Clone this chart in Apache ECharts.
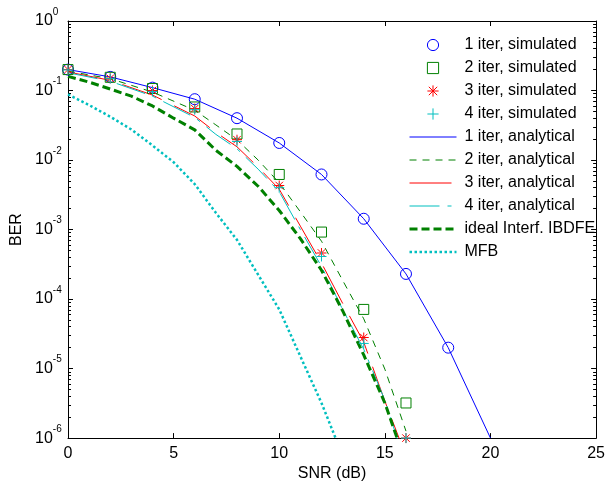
<!DOCTYPE html>
<html>
<head>
<meta charset="utf-8">
<script src="https://cdn.jsdelivr.net/npm/echarts@6/dist/echarts.min.js"></script>
<style>html,body{margin:0;padding:0;background:#fff;}#c{width:608px;height:487px;}</style>
</head>
<body>
<div id="c"></div>
<script>
// ---- data ----
const xTicks = [0, 5, 10, 15, 20, 25];
const yTickExponents = [-6, -5, -4, -3, -2, -1, 0];

const snrSim1 = [0, 2, 4, 6, 8, 10, 12, 14, 16, 18];
const berSim1 = [0.2, 0.157, 0.11, 0.075, 0.040, 0.0176, 0.0062, 0.00143, 2.3e-4, 2.0e-5];

const snrSim2 = [0, 2, 4, 6, 8, 10, 12, 14, 16];
const berSim2 = [0.2, 0.155, 0.107, 0.058, 0.0237, 0.0062, 9.2e-4, 7.1e-5, 3.2e-6];

const snrSim3 = [0, 2, 4, 6, 8, 10, 12, 14, 16];
const berSim3 = [0.2, 0.15, 0.1, 0.055, 0.0196, 0.0043, 4.6e-4, 2.8e-5, 1.0e-6];

const snrSim4 = [0, 2, 4, 6, 8, 10, 12, 14, 16];
const berSim4 = [0.198, 0.148, 0.097, 0.053, 0.0185, 0.0040, 4.1e-4, 2.3e-5, 1.0e-6];

const snrAna1 = [0, 2, 4, 6, 8, 10, 12, 14, 16, 18, 20];
const berAna1 = [0.2, 0.157, 0.11, 0.075, 0.040, 0.0176, 0.0062, 0.00143, 2.3e-4, 2.0e-5, 1.0e-6];

const snrAna2 = [0, 2, 4, 6, 7, 8, 9, 10, 11, 12, 13, 14, 15, 16];
const berAna2 = [0.19, 0.148, 0.095, 0.052, 0.032, 0.0195, 0.010, 0.0047, 1.8e-3, 6.8e-4, 1.86e-4, 5.2e-5, 9.8e-6, 1.26e-6];

const snrAna3 = [0, 2, 4, 6, 7, 8, 9, 10, 11, 12, 13, 14, 15, 16];
const berAna3 = [0.185, 0.14, 0.086, 0.043, 0.025, 0.0155, 0.0079, 0.0038, 1.12e-3, 3.3e-4, 8.7e-5, 2.4e-5, 3.4e-6, 5.5e-7];

const snrAna4 = [0, 2, 4, 6, 7, 8, 9, 10, 11, 12, 13, 14, 15, 16];
const berAna4 = [0.18, 0.136, 0.083, 0.041, 0.0234, 0.0145, 0.0074, 0.0035, 1.0e-3, 2.95e-4, 7.1e-5, 1.9e-5, 3.5e-6, 4.0e-7];

const snrIdeal = [0, 1, 2, 3, 4, 5, 6, 7, 8, 9, 10, 11, 12, 13, 14, 15, 16];
const berIdeal = [0.16, 0.132, 0.105, 0.083, 0.060, 0.040, 0.0272, 0.0138, 0.0081, 0.0042, 0.00188, 7.4e-4, 2.6e-4, 6.8e-5, 1.57e-5, 3.2e-6, 4.3e-7];

const snrMFB = [0, 1, 2, 3, 4, 5, 6, 7, 8, 9, 10, 11, 12, 13];
const berMFB = [0.088, 0.0617, 0.042, 0.0275, 0.0162, 0.0093, 0.0045, 0.00174, 7.1e-4, 2.24e-4, 7.1e-5, 1.5e-5, 3.2e-6, 5.6e-7];

const seriesNames = ['1 iter, simulated', '2 iter, simulated', '3 iter, simulated', '4 iter, simulated',
  '1 iter, analytical', '2 iter, analytical', '3 iter, analytical', '4 iter, analytical',
  'ideal Interf. IBDFE', 'MFB'];

// minor tick values of the log axis (2..9 x 10^e)
const minorMultipliers = [2, 3, 4, 5, 6, 7, 8, 9];
const minorTicks = [];
yTickExponents.slice(0, -1).forEach(function (e) {
  minorMultipliers.forEach(function (m) { minorTicks.push(Number((m * Math.pow(10, e)).toPrecision(3))); });
});

function pairs(xs, ys) { return xs.map(function (x, i) { return [x, ys[i]]; }); }

const FONT = 'Liberation Sans, Arial, sans-serif';
const BLUE = '#0000ff', GREEN = '#008000', RED = '#ff0000', CYAN = '#00bfbf';
const STAR = 'path://M0,-10L0,10M-10,0L10,0M-7.5,-7.5L7.5,7.5M-7.5,7.5L7.5,-7.5';
const PLUS = 'path://M0,-10L0,10M-10,0L10,0';
const NOFILL = 'rgba(0,0,0,0)';

function markerSeries(name, xs, ys, symbol, color, size) {
  return {
    name: name, type: 'line', data: pairs(xs, ys), symbol: symbol, symbolSize: size,
    showAllSymbol: true,
    lineStyle: { width: 0, opacity: 0 },
    itemStyle: { color: NOFILL, borderColor: color, borderWidth: 1 },
    emphasis: { disabled: true }, z: 3
  };
}
function lineSeries(name, xs, ys, color, width, dash, z) {
  return {
    name: name, type: 'line', data: pairs(xs, ys), symbol: 'none', showSymbol: false,
    lineStyle: { color: color, width: width, type: dash, cap: 'butt' },
    itemStyle: { color: color },
    emphasis: { disabled: true }, clip: true, z: z || 2
  };
}

const axisLineBlack = { show: true, lineStyle: { color: '#000', width: 1 } };

const legendLineWidths = [0, 0, 0, 0, 1, 1, 1, 1, 3, 2.5];
const legendData = seriesNames.map(function (n, i) {
  return i < 4
    ? { name: n, itemStyle: { borderWidth: 1 }, lineStyle: { width: 0 } }
    : { name: n, itemStyle: { opacity: 0 }, lineStyle: { width: legendLineWidths[i] } };
});

const option = {
  animation: false,
  backgroundColor: '#ffffff',
  grid: { left: 68, right: 10, top: 21, bottom: 44 },
  legend: {
    orient: 'vertical', left: 408, top: 37, padding: 0,
    itemWidth: 47, itemHeight: 14, itemGap: 7,
    selectedMode: false,
    data: legendData,
    textStyle: { fontFamily: FONT, fontSize: 16, color: '#000', lineHeight: 14, padding: [0, 0, 0, 3] }
  },
  xAxis: [
    {
      type: 'value', min: 0, max: 25, interval: 5, position: 'bottom',
      axisLine: axisLineBlack,
      axisTick: { show: true, inside: true, length: 5, lineStyle: { color: '#000' } },
      axisLabel: { color: '#000', fontFamily: FONT, fontSize: 16, margin: 7 },
      splitLine: { show: false },
      name: 'SNR (dB)', nameLocation: 'middle', nameGap: 22,
      nameTextStyle: { fontFamily: FONT, fontSize: 16, color: '#000' }
    },
    {
      type: 'value', min: 0, max: 25, interval: 5, position: 'top',
      axisLine: axisLineBlack,
      axisTick: { show: true, inside: true, length: 5, lineStyle: { color: '#000' } },
      axisLabel: { show: false }, splitLine: { show: false }
    }
  ],
  yAxis: [
    {
      type: 'log', logBase: 10, min: 1e-6, max: 1, interval: 1, position: 'left',
      axisLine: axisLineBlack,
      axisTick: { show: true, inside: true, length: 5, lineStyle: { color: '#000' } },
      axisLabel: {
        margin: 33, align: 'left', color: '#000',
        formatter: function (v) {
          const e = Math.round(Math.log10(v));
          return '{b|10}{s|' + e + '}';
        },
        rich: {
          b: { fontFamily: FONT, fontSize: 16, color: '#000', lineHeight: 16 },
          s: { fontFamily: FONT, fontSize: 10, color: '#000', lineHeight: 11, padding: [0, 0, 18, 0] }
        }
      },
      splitLine: { show: false },
      name: 'BER', nameLocation: 'middle', nameGap: 42,
      nameTextStyle: { fontFamily: FONT, fontSize: 16, color: '#000' }
    },
    {
      type: 'log', logBase: 10, min: 1e-6, max: 1, position: 'left',
      axisLine: { show: false },
      axisTick: { show: true, inside: true, length: 3, customValues: minorTicks, lineStyle: { color: '#000' } },
      axisLabel: { show: false }, splitLine: { show: false }
    },
    {
      type: 'log', logBase: 10, min: 1e-6, max: 1, interval: 1, position: 'right',
      axisLine: axisLineBlack,
      axisTick: { show: true, inside: true, length: 5, lineStyle: { color: '#000' } },
      axisLabel: { show: false }, splitLine: { show: false }
    },
    {
      type: 'log', logBase: 10, min: 1e-6, max: 1, position: 'right',
      axisLine: { show: false },
      axisTick: { show: true, inside: true, length: 3, customValues: minorTicks, lineStyle: { color: '#000' } },
      axisLabel: { show: false }, splitLine: { show: false }
    }
  ],
  series: [
    markerSeries(seriesNames[0], snrSim1, berSim1, 'circle', BLUE, 11),
    markerSeries(seriesNames[1], snrSim2, berSim2, 'rect', GREEN, 10),
    markerSeries(seriesNames[2], snrSim3, berSim3, STAR, RED, 10),
    markerSeries(seriesNames[3], snrSim4, berSim4, PLUS, CYAN, 10),
    lineSeries(seriesNames[4], snrAna1, berAna1, BLUE, 1, 'solid'),
    lineSeries(seriesNames[5], snrAna2, berAna2, GREEN, 1, [7, 6]),
    lineSeries(seriesNames[6], snrAna3, berAna3, RED, 1, [42, 14]),
    lineSeries(seriesNames[7], snrAna4, berAna4, CYAN, 1, [30, 8, 4, 8]),
    lineSeries(seriesNames[8], snrIdeal, berIdeal, GREEN, 3, [8, 4]),
    lineSeries(seriesNames[9], snrMFB, berMFB, CYAN, 2.5, [2.5, 2.5])
  ]
};

const chart = echarts.init(document.getElementById('c'), null, { renderer: 'canvas' });
chart.setOption(option);
</script>
</body>
</html>
